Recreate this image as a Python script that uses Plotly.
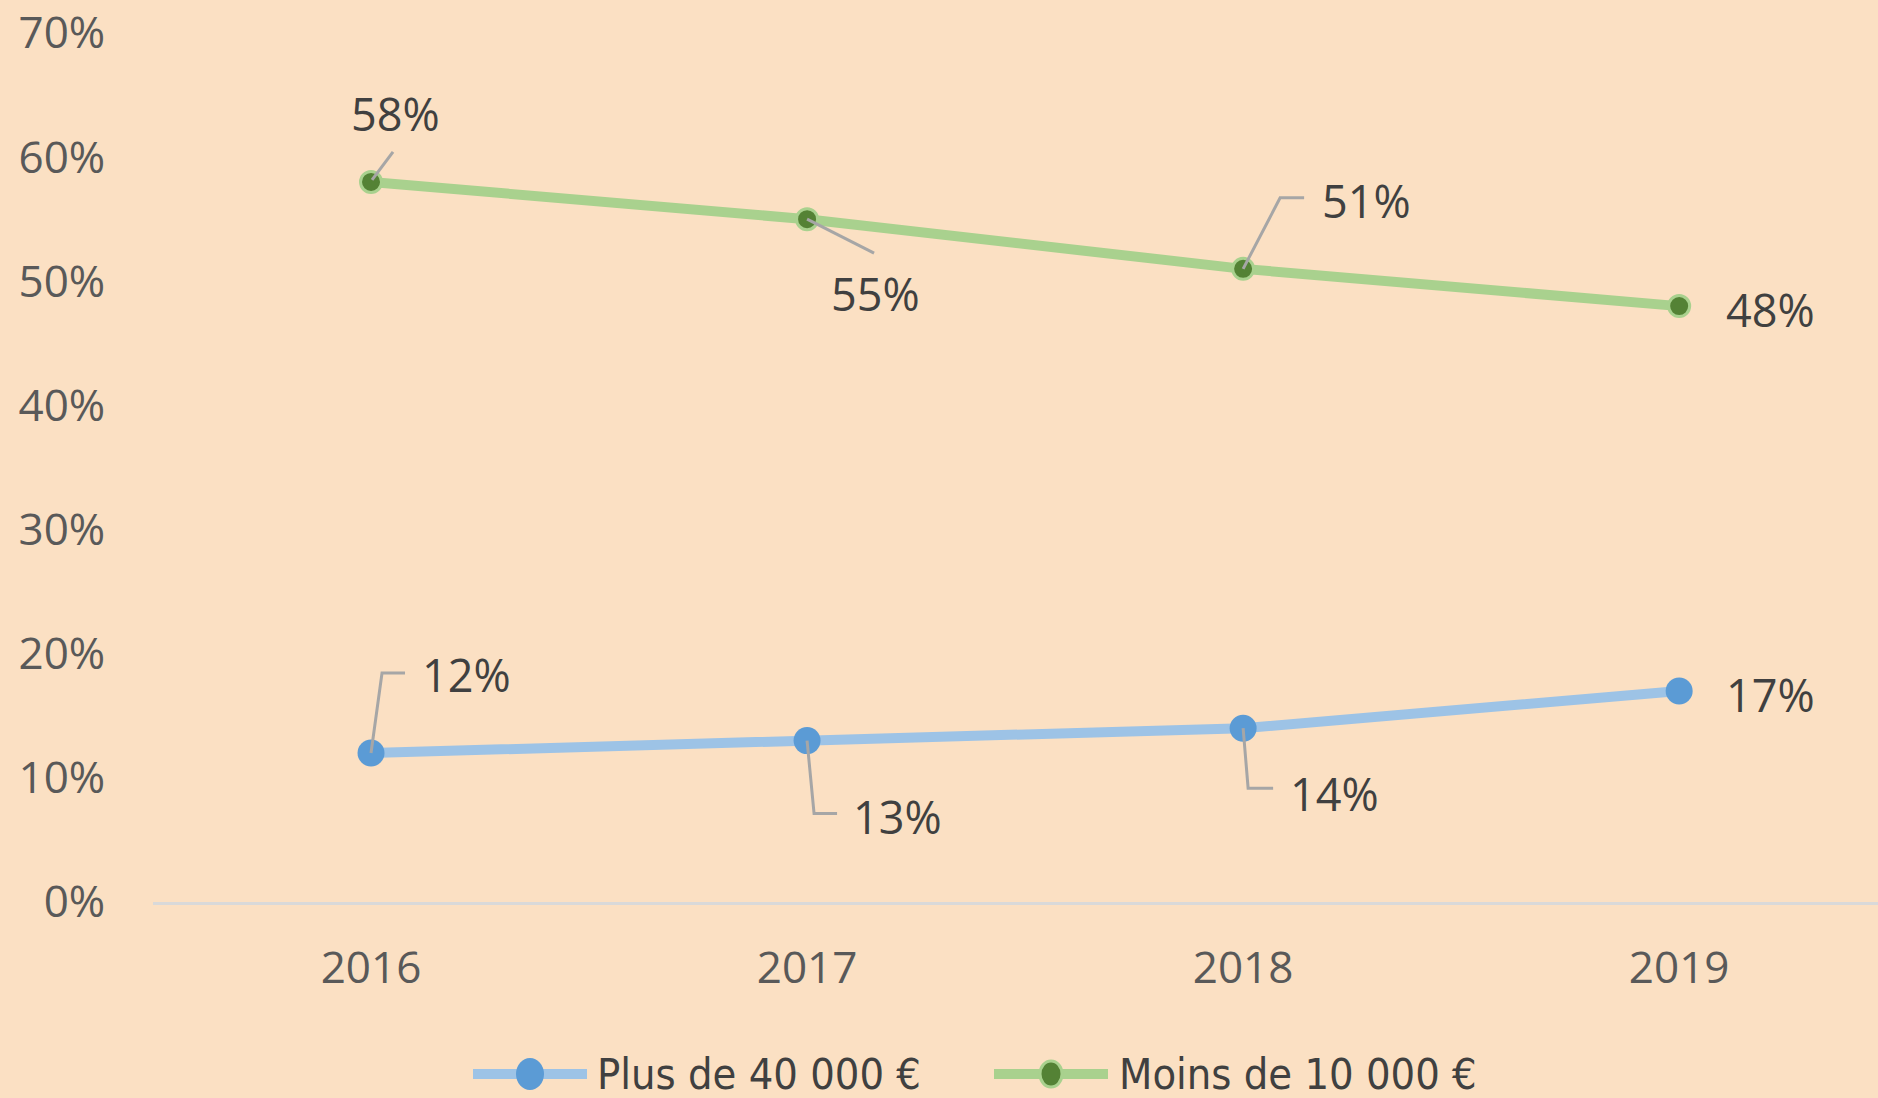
import plotly.graph_objects as go

# ---------------- data ----------------
years = ["2016", "2017", "2018", "2019"]
plus_40000 = [0.12, 0.13, 0.14, 0.17]
moins_10000 = [0.58, 0.55, 0.51, 0.48]
series_names = ["Plus de 40 000 €", "Moins de 10 000 €"]
y_tick_values = [0, 0.1, 0.2, 0.3, 0.4, 0.5, 0.6, 0.7]
y_tick_labels = ["0%", "10%", "20%", "30%", "40%", "50%", "60%", "70%"]

# ---------------- style / layout constants ----------------
W, H = 1878, 1098
ML, MR, MT, MB = 153, 0, 33, 196
BG = "#FBE0C3"
BLUE_LINE, BLUE_MARK = "#9DC3E6", "#5B9BD5"
GREEN_LINE, GREEN_MARK = "#A9D18E", "#548235"
LEADER = "#A6A6A6"
TICK_FONT = dict(family="Open Sans, sans-serif", size=44, color="#595959")
LABEL_FONT = dict(family="Open Sans, sans-serif", size=45, color="#404040")
LEGEND_FONT = dict(family="Liberation Sans Narrow, DejaVu Sans Condensed, sans-serif",
                   size=43, color="#404040")

# label offsets (pixels, y up) and leader paths (pixels relative to point, y up)
blue_label_offsets = [(95, 79), (90, -76), (91, -65), (91, -4)]
blue_leaders = ["M0,0 L11,80 L34,80", "M0,0 L7,-73 L30,-73", "M0,0 L5,-60 L30,-60", None]
green_label_offsets = [(24, 68), (68, -74), (123, 68), (91, -3)]
green_leaders = ["M1,2 L22,30", "M0,0 L67,-34", "M0,0 L37,71 L61,71", None]

xpos = list(range(len(years)))

fig = go.Figure()
fig.add_trace(go.Scatter(
    x=xpos, y=plus_40000, mode="lines+markers", name=series_names[0],
    line=dict(color=BLUE_LINE, width=10),
    marker=dict(color=BLUE_MARK, size=27, line=dict(width=0)),
    showlegend=False, hoverinfo="skip"))
fig.add_trace(go.Scatter(
    x=xpos, y=moins_10000, mode="lines+markers", name=series_names[1],
    line=dict(color=GREEN_LINE, width=10),
    marker=dict(color=GREEN_MARK, size=21, line=dict(width=3, color=GREEN_LINE)),
    showlegend=False, hoverinfo="skip"))

annotations = []
shapes = []
for vals, offs, leaders in [(plus_40000, blue_label_offsets, blue_leaders),
                            (moins_10000, green_label_offsets, green_leaders)]:
    for i, v in enumerate(vals):
        dx, dy = offs[i]
        annotations.append(dict(
            x=xpos[i], y=v, xref="x", yref="y", text=f"{round(v * 100)}%",
            showarrow=False, xshift=dx, yshift=dy, font=LABEL_FONT,
            xanchor="center", yanchor="middle"))
        if leaders[i]:
            shapes.append(dict(
                type="path", xref="x", yref="y", xsizemode="pixel", ysizemode="pixel",
                xanchor=xpos[i], yanchor=v, path=leaders[i],
                line=dict(color=LEADER, width=3), layer="above"))

# ---------------- manual legend ----------------
plot_w = W - ML - MR
plot_h = H - MT - MB


def px_x(px):
    return (px - ML) / plot_w


def px_y(py):
    return (H - MB - py) / plot_h


legend_y = 1074
legend_items = [
    (473, 587, series_names[0], BLUE_LINE, BLUE_MARK, None, 14, 595),
    (994, 1108, series_names[1], GREEN_LINE, GREEN_MARK, GREEN_LINE, 11, 1117),
]
for x0, x1, name, lc, mc, mlc, r, tx in legend_items:
    shapes.append(dict(type="line", xref="paper", yref="paper",
                       x0=px_x(x0), x1=px_x(x1), y0=px_y(legend_y), y1=px_y(legend_y),
                       line=dict(color=lc, width=10), layer="above"))
    xm = (x0 + x1) / 2
    shapes.append(dict(type="circle", xref="paper", yref="paper",
                       xsizemode="pixel", ysizemode="pixel",
                       xanchor=px_x(xm), yanchor=px_y(legend_y),
                       x0=-r, x1=r, y0=-r - 2, y1=r + 2,
                       fillcolor=mc,
                       line=dict(color=mlc if mlc else mc, width=3 if mlc else 0),
                       layer="above"))
    annotations.append(dict(x=px_x(tx), y=px_y(legend_y), xref="paper", yref="paper",
                            text=name, showarrow=False, xanchor="left", yanchor="middle",
                            font=LEGEND_FONT))

fig.update_layout(
    width=W, height=H,
    margin=dict(l=ML, r=MR, t=MT, b=MB, pad=0, autoexpand=False),
    paper_bgcolor=BG, plot_bgcolor=BG,
    showlegend=False,
    annotations=annotations, shapes=shapes,
    xaxis=dict(range=[-0.5, 3.456], tickvals=xpos, ticktext=years,
               showgrid=False, zeroline=False, showline=True, linecolor="#D9D9D9",
               linewidth=3, ticks="outside", ticklen=25, tickcolor="rgba(0,0,0,0)",
               tickfont=TICK_FONT, fixedrange=True),
    yaxis=dict(range=[0, 0.7], tickvals=y_tick_values, ticktext=y_tick_labels,
               showgrid=False, zeroline=False, showline=False,
               ticks="outside", ticklen=38, tickcolor="rgba(0,0,0,0)",
               tickfont=TICK_FONT, fixedrange=True),
)

fig.write_html("out.html", config={"displayModeBar": False},
               post_script="document.body.style.margin='0';document.body.style.overflow='hidden';")
